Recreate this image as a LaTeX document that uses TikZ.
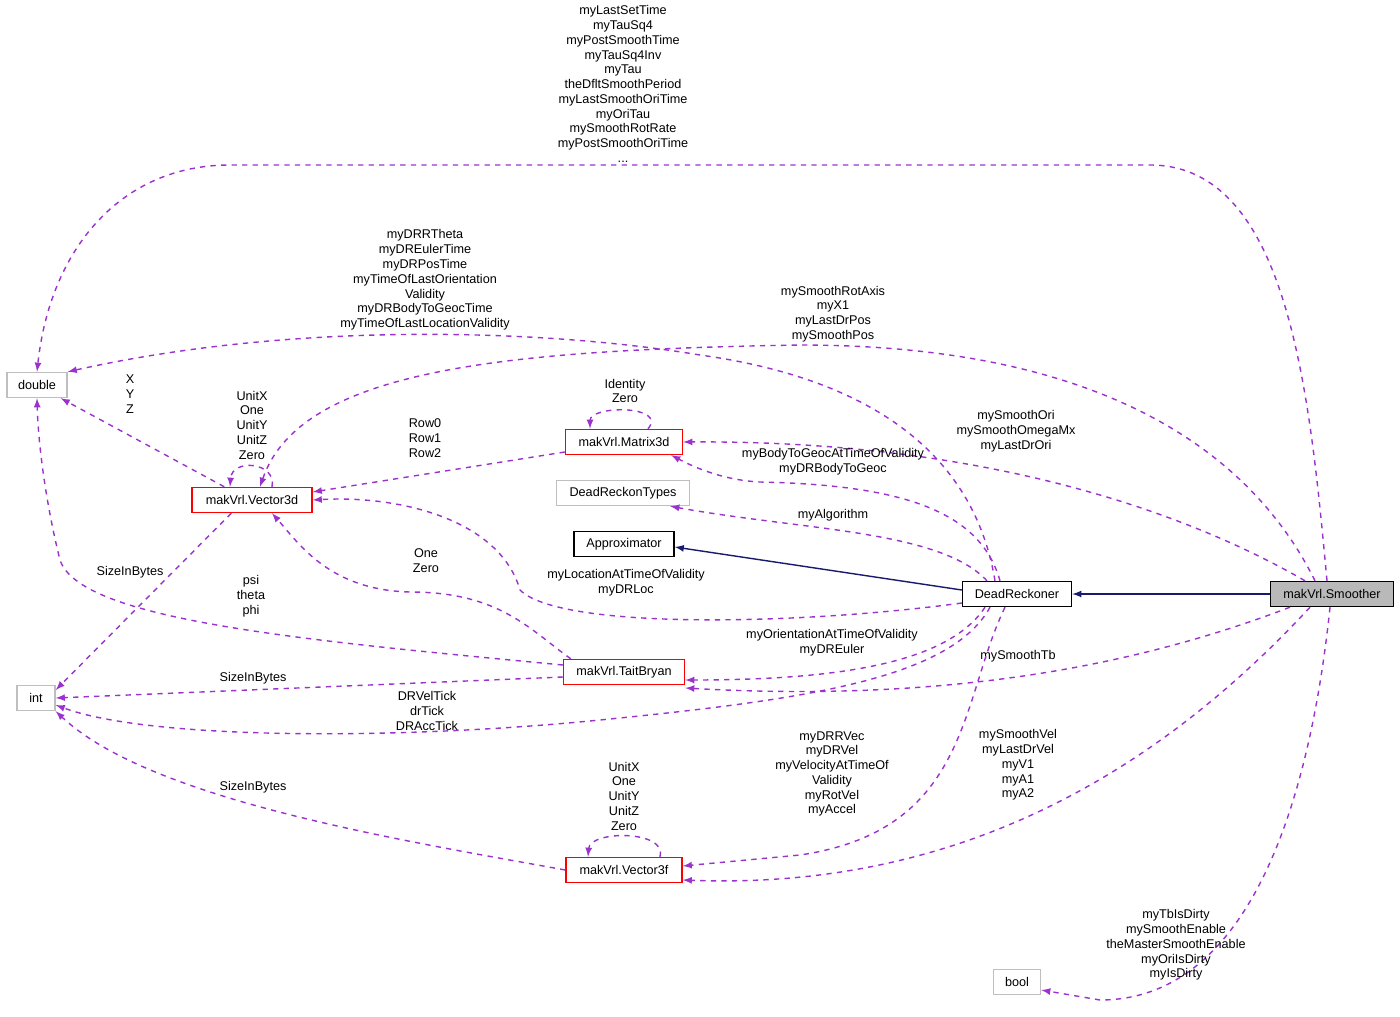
\documentclass[tikz,border=0pt]{standalone}
\usepackage{fontspec}
\setmainfont{Liberation Sans}
\usetikzlibrary{arrows,positioning,calc}
\definecolor{navy}{RGB}{25,25,112}
\definecolor{dep}{RGB}{155,50,205}
\tikzset{
  cls/.style={draw=red, thick, fill=white, inner sep=0pt, minimum height=0.5cm},
  ext/.style={draw=gray!50, thick, fill=white, inner sep=0pt, minimum height=0.5cm},
  plain/.style={draw=black, thick, fill=white, inner sep=0pt, minimum height=0.5cm},
  use/.style={dashed, dep, -latex, thick},
  inh/.style={navy, -latex, thick},
  lbl/.style={align=center, font=\fontsize{7.2}{8.4}\selectfont}
}
\begin{document}
\begin{tikzpicture}[x=0.02cm, y=-0.02cm, font=\fontsize{7.2}{8.4}\selectfont]
\useasboundingbox (0,0) rectangle (1400,1017);

% classes
\node[ext, minimum width=1.2cm] (double) at (37,385) {double};
\node[ext, minimum width=0.76cm] (int) at (36,698) {int};
\node[ext, minimum width=0.94cm] (bool) at (1017,982) {bool};
\node[cls, minimum width=2.4cm] (vec3d) at (252,500) {makVrl.Vector3d};
\node[cls, minimum width=2.34cm] (mat3d) at (624,442) {makVrl.Matrix3d};
\node[ext, minimum width=2.66cm] (drtypes) at (623,493) {DeadReckonTypes};
\node[plain, minimum width=2cm] (approx) at (624,544) {Approximator};
\node[plain, minimum width=2.18cm] (dr) at (1017,594) {DeadReckoner};
\node[draw=black, thick, fill=gray!55, inner sep=0pt, minimum height=0.5cm, minimum width=2.46cm] (smoother) at (1332,594) {makVrl.Smoother};
\node[cls, minimum width=2.42cm] (tait) at (624,672) {makVrl.TaitBryan};
\node[cls, minimum width=2.32cm] (vec3f) at (624,870) {makVrl.Vector3f};

% inheritance
\draw[inh] (smoother.west) -- (dr.east);
\draw[inh] (dr.west |- 0,590) -- (approx.east |- 0,547);

% usage
\draw[use] ($(smoother.north)+(-5,0)$) .. controls (1310,400) and (1290,165) .. (1150,165) -- (230,165) .. controls (120,165) and (50,250) .. (double.north);
\node[lbl] at (623,84) {myLastSetTime\\myTauSq4\\myPostSmoothTime\\myTauSq4Inv\\myTau\\theDfltSmoothPeriod\\myLastSmoothOriTime\\myOriTau\\mySmoothRotRate\\myPostSmoothOriTime\\...};

\draw[use] ($(dr.north)+(-22,0)$) .. controls (975,460) and (880,380) .. (700,355) .. controls (550,330) and (300,320) .. (double.north east);
\node[lbl] at (425,280) {myDRRTheta\\myDREulerTime\\myDRPosTime\\myTimeOfLastOrientation\\Validity\\myDRBodyToGeocTime\\myTimeOfLastLocationValidity};

\draw[use] ($(smoother.north)+(-17,0)$) .. controls (1250,450) and (1100,345) .. (800,345) .. controls (500,350) and (300,370) .. ($(vec3d.north)+(8,0)$);
\node[lbl] at (833,314) {mySmoothRotAxis\\myX1\\myLastDrPos\\mySmoothPos};

\draw[use] ($(smoother.north)+(-27,0)$) .. controls (1200,520) and (1000,440) .. (mat3d.east);
\node[lbl] at (1016,431) {mySmoothOri\\mySmoothOmegaMx\\myLastDrOri};

\draw[use] ($(dr.north)+(-17,0)$) .. controls (980,510) and (900,485) .. (760,482) .. controls (720,480) and (690,465) .. ($(mat3d.south east)+(-12,0)$);
\node[lbl] at (833,462) {myBodyToGeocAtTimeOfValidity\\myDRBodyToGeoc};

\draw[use] ($(dr.north)+(-30,0)$) .. controls (940,530) and (800,530) .. ($(drtypes.south east)+(-20,0)$);
\node[lbl] at (833,515) {myAlgorithm};

\draw[use] (dr.west |- 0,603) .. controls (800,625) and (560,630) .. (520,590) .. controls (500,520) and (400,495) .. (vec3d.east);
\node[lbl] at (626,583) {myLocationAtTimeOfValidity\\myDRLoc};

\draw[use] (mat3d.west |- 0,452) -- (vec3d.east |- 0,492);
\node[lbl] at (425,438) {Row0\\Row1\\Row2};

\draw[use] ($(vec3d.north)+(20,0)$) .. controls (277,462) and (232,458) .. ($(vec3d.north)+(-22,0)$);
\node[lbl] at (252,425) {UnitX\\One\\UnitY\\UnitZ\\Zero};

\draw[use] ($(mat3d.north)+(24,0)$) .. controls (668,405) and (590,405) .. ($(mat3d.north)+(-34,0)$);
\node[lbl] at (625,391) {Identity\\Zero};

\draw[use] ($(vec3d.north west)+(33,0)$) -- ($(double.south east)+(-7,0)$);
\node[lbl] at (130,394) {X\\Y\\Z};

\draw[use] ($(vec3d.south west)+(40,0)$) -- (int.east |- 0,690);
\node[lbl] at (130,572) {SizeInBytes};

\draw[use] ($(tait.north west)+(8,0)$) .. controls (530,630) and (500,592) .. (410,592) .. controls (330,590) and (300,545) .. ($(vec3d.south)+(20,0)$);
\node[lbl] at (426,561) {One\\Zero};

\draw[use] (tait.west |- 0,665) .. controls (300,640) and (80,620) .. (60,560) .. controls (45,500) and (38,440) .. (double.south);
\node[lbl] at (251,596) {psi\\theta\\phi};

\draw[use] (tait.west |- 0,677) -- (int.east |- 0,698);
\node[lbl] at (253,678) {SizeInBytes};

\draw[use] ($(dr.south)+(-32,0)$) .. controls (950,660) and (850,680) .. (tait.east |- 0,680);
\node[lbl] at (832,643) {myOrientationAtTimeOfValidity\\myDREuler};

\draw[use] ($(smoother.south)+(-42,0)$) .. controls (1100,680) and (900,700) .. (tait.east |- 0,688);
\node[lbl] at (1018,656) {mySmoothTb};

\draw[use] ($(dr.south)+(-27,0)$) .. controls (950,680) and (800,700) .. (600,720) .. controls (400,740) and (150,740) .. (int.east |- 0,705);
\node[lbl] at (427,711) {DRVelTick\\drTick\\DRAccTick};

\draw[use] (vec3f.west) .. controls (400,840) and (150,800) .. (int.south east);
\node[lbl] at (253,787) {SizeInBytes};

\draw[use] ($(vec3f.north)+(36,0)$) .. controls (668,830) and (590,830) .. ($(vec3f.north)+(-36,0)$);
\node[lbl] at (624,796) {UnitX\\One\\UnitY\\UnitZ\\Zero};

\draw[use] ($(dr.south)+(-12,0)$) .. controls (960,700) and (970,830) .. (800,855) -- (vec3f.east |- 0,866);
\node[lbl] at (832,774) {myDRRVec\\myDRVel\\myVelocityAtTimeOf\\Validity\\myRotVel\\myAccel};

\draw[use] ($(smoother.south)+(-22,0)$) .. controls (1150,780) and (950,890) .. (vec3f.east |- 0,880);
\node[lbl] at (1018,765) {mySmoothVel\\myLastDrVel\\myV1\\myA1\\myA2};

\draw[use] ($(smoother.south)+(-2,0)$) .. controls (1310,800) and (1250,1000) .. (1100,1000) -- (bool.east |- 0,990);
\node[lbl] at (1176,945) {myTbIsDirty\\mySmoothEnable\\theMasterSmoothEnable\\myOriIsDirty\\myIsDirty};
\end{tikzpicture}
\end{document}
